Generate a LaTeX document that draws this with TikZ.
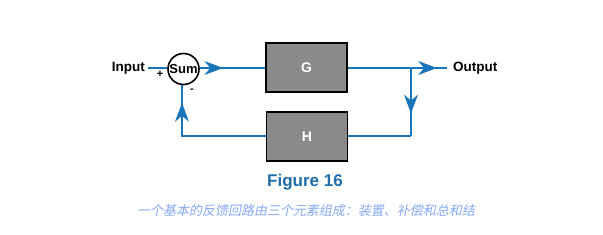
\documentclass[tikz,border=0pt]{standalone}
\usepackage{fontspec}
\setmainfont{Liberation Sans}
\newfontfamily\cjk[FakeSlant=0.2]{Noto Sans CJK SC}
\usepackage{xcolor}
\usetikzlibrary{arrows.meta,decorations.markings}
\definecolor{loopBlue}{HTML}{1B75BB}
\definecolor{figBlue}{HTML}{1F6EA8}
\definecolor{capBlue}{HTML}{86A8F0}
\definecolor{blockGrey}{HTML}{8A8A8A}
\tikzset{
  signal/.style={line width=1.8pt, draw=loopBlue},
  midarrow/.style={decoration={markings, mark=at position #1 with {\arrow[loopBlue]{Stealth[length=19pt,width=14pt,inset=6pt,line width=0pt]}}}, postaction=decorate},
  block/.style={rectangle, draw=black, fill=blockGrey, line width=1.8pt, minimum width=81pt, minimum height=49pt, inner sep=0pt, text=white, font=\fontsize{14}{16}\selectfont\bfseries},
  sumnode/.style={circle, draw=black, fill=white, line width=1.6pt, minimum size=31pt, inner sep=0pt, font=\fontsize{13}{15}\selectfont\bfseries},
  iolabel/.style={font=\fontsize{13.5}{16}\selectfont\bfseries, inner sep=0pt},
  signlabel/.style={font=\fontsize{11}{13}\selectfont\bfseries, inner sep=0pt},
}
\begin{document}
\begin{tikzpicture}[x=1pt,y=-1pt]
  \useasboundingbox (0,0) rectangle (603,235);

  \node[iolabel, anchor=east] (in) at (145,68) {Input};
  \node[sumnode] (sum) at (183.5,69) {Sum};
  \node[block] (g) at (306.5,67.5) {G};
  \node[block] (h) at (307,136.5) {H};
  \node[iolabel, anchor=west] (out) at (453,68) {Output};
  \node[signlabel] (plus) at (160,74) {+};
  \node[signlabel] (minus) at (192,91) {-};

  \coordinate (inend) at (148,68);
  \coordinate (outend) at (447,68);
  \coordinate (br) at (411,68);
  \coordinate (brb) at (411,136);
  \coordinate (fb) at (182,136);

  \draw[signal] (inend) -- (sum.west |- inend);
  \draw[signal, midarrow=0.36] (sum.east |- inend) -- (g.west |- inend);
  \draw[signal, midarrow=0.9] (g.east |- inend) -- (outend);
  \draw[signal, midarrow=0.67] (br) -- (brb);
  \draw[signal] (brb) -- (h.east |- brb);
  \draw[signal, midarrow=0.87] (h.west |- fb) -- (fb) -- (sum.south -| fb);

  \node[font=\fontsize{17}{20}\selectfont\bfseries, text=figBlue] (fig) at (305,182) {Figure 16};
  \node[font=\fontsize{13}{15}\selectfont\cjk, text=capBlue] (cap) at (306,211) {一个基本的反馈回路由三个元素组成：装置、补偿和总和结};
\end{tikzpicture}
\end{document}
